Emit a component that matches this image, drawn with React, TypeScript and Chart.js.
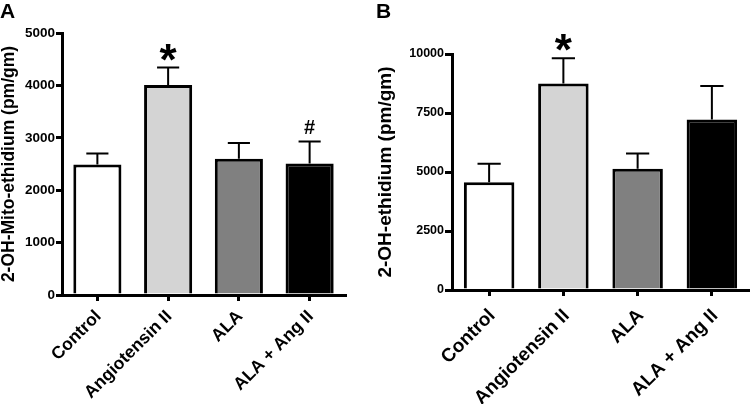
import React, { useEffect, useRef } from "react";
import { Chart, registerables } from "chart.js";

Chart.register(...registerables);

// ---- data ----
const categories = ["Control", "Angiotensin II", "ALA", "ALA + Ang II"];
const barColors = ["#ffffff", "#d4d4d4", "#808080", "#000000"];

const meansA = [2490, 4010, 2600, 2510];
const semA = [210, 330, 300, 420];
const marksA = ["", "*", "", "#"];
const ticksA = [0, 1000, 2000, 3000, 4000, 5000];
const titleA = "2-OH-Mito-ethidium (pm/gm)";

const meansB = [4570, 8750, 5140, 7220];
const semB = [780, 1070, 640, 1420];
const marksB = ["", "*", "", ""];
const ticksB = [0, 2500, 5000, 7500, 10000];
const titleB = "2-OH-ethidium (pm/gm)";

const FONT = "'Liberation Sans', Arial, sans-serif";

function makeErrorPlugin(sem: number[], marks: string[]) {
  return {
    id: "errorBars",
    afterDatasetsDraw(chart: any) {
      const ctx = chart.ctx;
      const meta = chart.getDatasetMeta(0);
      const ys = chart.scales.y;
      const data = chart.data.datasets[0].data as number[];
      ctx.save();
      ctx.strokeStyle = "#000";
      ctx.lineWidth = 2;
      meta.data.forEach((bar: any, i: number) => {
        const x = bar.x;
        const top = ys.getPixelForValue(data[i] + sem[i]);
        const half = bar.width * 0.23;
        ctx.beginPath();
        ctx.moveTo(x, bar.y);
        ctx.lineTo(x, top);
        ctx.moveTo(x - half, top);
        ctx.lineTo(x + half, top);
        ctx.stroke();
        const m = marks[i];
        if (m) {
          ctx.fillStyle = "#000";
          ctx.font = m === "*" ? `bold 44px ${FONT}` : `bold 20px ${FONT}`;
          ctx.textAlign = "center";
          ctx.textBaseline = "alphabetic";
          const tm = ctx.measureText(m);
          const gap = 6;
          const baseline = top - 1 - gap - tm.actualBoundingBoxDescent;
          ctx.fillText(m, x, baseline);
        }
      });
      ctx.restore();
    },
  };
}

function makeXLabelPlugin(size: number, dx: number, dy: number) {
  return {
    id: "xLabels",
    afterDraw(chart: any) {
      const ctx = chart.ctx;
      const xs = chart.scales.x;
      const bottom = chart.chartArea.bottom;
      ctx.save();
      ctx.fillStyle = "#000";
      ctx.font = `bold ${size}px ${FONT}`;
      ctx.textAlign = "right";
      ctx.textBaseline = "top";
      categories.forEach((lab, i) => {
        const x = xs.getPixelForTick(i);
        ctx.save();
        ctx.translate(x + dx, bottom + dy);
        ctx.rotate(-Math.PI / 4);
        ctx.fillText(lab, 0, 0);
        ctx.restore();
      });
      ctx.restore();
    },
  };
}

function makeConfig(p: {
  means: number[];
  sem: number[];
  marks: string[];
  ticks: number[];
  title: string;
  yWidth: number;
  xHeight: number;
  padTop: number;
  padRight: number;
  titlePad: number;
  titleSize: number;
  tickSize: number;
  labelSize: number;
  labelDx: number;
  labelDy: number;
  tickLen: number;
}): any {
  return {
    type: "bar",
    data: {
      labels: categories,
      datasets: [
        {
          data: p.means,
          backgroundColor: barColors,
          borderColor: "#000",
          borderWidth: 3,
          categoryPercentage: 1,
          barPercentage: 0.68,
        },
      ],
    },
    options: {
      responsive: false,
      animation: false,
      devicePixelRatio: 1,
      layout: { padding: { left: 0, top: p.padTop, right: p.padRight, bottom: 0 } },
      plugins: { legend: { display: false }, tooltip: { enabled: false }, title: { display: false } },
      scales: {
        x: {
          type: "category",
          offset: true,
          grid: {
            display: true,
            drawOnChartArea: false,
            offset: false,
            tickLength: 6,
            lineWidth: 3,
            color: "#000",
          },
          border: { display: true, color: "#000", width: 3 },
          ticks: { display: false },
          afterFit: (s: any) => {
            s.height = p.xHeight;
          },
        },
        y: {
          min: 0,
          max: p.ticks[p.ticks.length - 1],
          grid: {
            display: true,
            drawOnChartArea: false,
            tickLength: p.tickLen,
            lineWidth: 3,
            color: "#000",
          },
          border: { display: true, color: "#000", width: 3 },
          afterBuildTicks: (s: any) => {
            s.ticks = p.ticks.map((v) => ({ value: v }));
          },
          ticks: {
            padding: 1,
            color: "#000",
            font: { family: FONT, size: p.tickSize, weight: "bold" },
            callback: (v: any) => String(v),
          },
          title: {
            display: true,
            text: p.title,
            color: "#000",
            padding: { top: p.titlePad, bottom: 0 },
            font: { family: FONT, size: p.titleSize, weight: "bold", lineHeight: 1 },
          },
          afterFit: (s: any) => {
            s.width = p.yWidth;
          },
        },
      },
    },
    plugins: [makeErrorPlugin(p.sem, p.marks), makeXLabelPlugin(p.labelSize, p.labelDx, p.labelDy)],
  };
}

function Panel(props: { left: number; config: any; letter: string; letterLeft: number }) {
  const ref = useRef<HTMLCanvasElement | null>(null);
  useEffect(() => {
    if (!ref.current) return;
    const chart = new Chart(ref.current, props.config);
    return () => chart.destroy();
  }, []);
  return (
    <div style={{ position: "absolute", left: props.left, top: 0, width: 375, height: 404 }}>
      <canvas ref={ref} width={375} height={404} style={{ display: "block" }} />
      <div
        style={{
          position: "absolute",
          left: props.letterLeft,
          top: 1,
          font: `bold 21px ${FONT}`,
          lineHeight: "20px",
          color: "#000",
        }}
      >
        {props.letter}
      </div>
    </div>
  );
}

export default function App() {
  const cfgA = makeConfig({
    means: meansA, sem: semA, marks: marksA, ticks: ticksA, title: titleA,
    yWidth: 62, xHeight: 109, padTop: 33, padRight: 30, titlePad: 0,
    titleSize: 17.5, tickSize: 13.5, labelSize: 17.5, labelDx: -5, labelDy: 12.5, tickLen: 6,
  });
  const cfgB = makeConfig({
    means: meansB, sem: semB, marks: marksB, ticks: ticksB, title: titleB,
    yWidth: 77, xHeight: 114, padTop: 54, padRight: 1, titlePad: 1,
    titleSize: 19, tickSize: 12.5, labelSize: 19, labelDx: -3.5, labelDy: 16, tickLen: 7,
  });
  return (
    <div style={{ position: "absolute", left: 0, top: 0, width: 750, height: 404, background: "#fff" }}>
      <Panel left={0} config={cfgA} letter="A" letterLeft={0} />
      <Panel left={375} config={cfgB} letter="B" letterLeft={1} />
    </div>
  );
}
